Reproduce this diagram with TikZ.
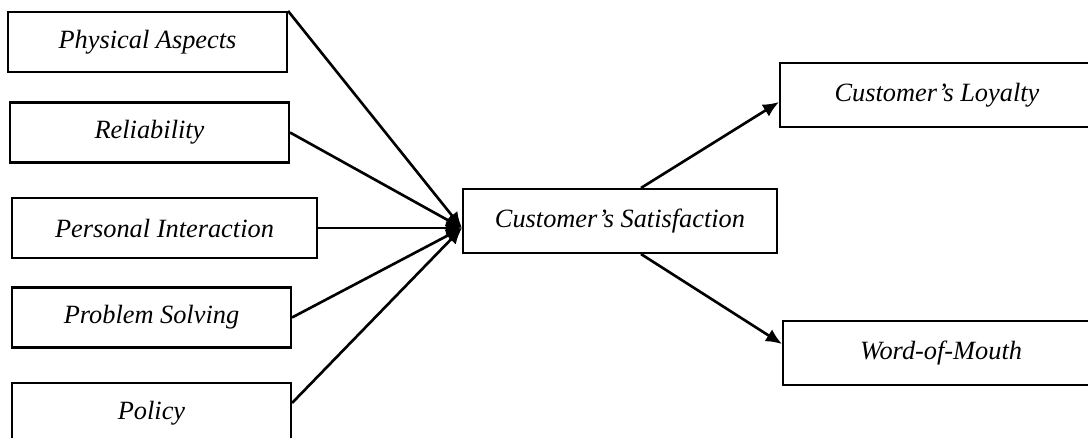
\documentclass[tikz,border=0pt]{standalone}
\usepackage{fontspec}
\setmainfont{Liberation Serif}
\usetikzlibrary{arrows.meta,positioning}

\begin{document}
\begin{tikzpicture}[x=0.02cm,y=-0.02cm,>={Latex[length=3.2mm,width=2.8mm]},
    box/.style={draw,line width=1.2pt,minimum height=1.2cm,inner sep=0pt,
      font=\fontsize{15}{18}\selectfont\itshape},
    link/.style={->,line width=1.5pt}]

    \useasboundingbox (0,0) rectangle (1088,437);
    \clip (0,0) rectangle (1088,437);

    % service quality dimensions
    \node[box,minimum width=5.58cm] (phys) at (147.5,42)  {Physical Aspects};
    \node[box,minimum width=5.58cm] (reli) at (149.5,132.5) {Reliability};
    \node[box,minimum width=6.1cm]  (pers) at (164.5,228) {Personal Interaction};
    \node[box,minimum width=5.58cm] (prob) at (151.5,317.5) {Problem Solving};
    \node[box,minimum width=5.58cm] (poli) at (151.5,413) {Policy};

    % satisfaction and its outcomes
    \node[box,minimum width=6.28cm,minimum height=1.28cm] (sat) at (620,221) {Customer’s Satisfaction};
    \node[box,minimum width=6.28cm,minimum height=1.28cm] (loy) at (937,95)  {Customer’s Loyalty};
    \node[box,minimum width=6.32cm,minimum height=1.28cm] (wom) at (941,353) {Word-of-Mouth};

    \coordinate (hub) at (pers.east -| sat.west);

    \draw[link] (phys.north east) -- (hub);
    \draw[link] (reli.east) -- (hub);
    \draw[link] (pers.east) -- (hub);
    \draw[link] (prob.east) -- (hub);
    \draw[link] ([yshift=2mm]poli.east) -- (hub);

    \draw[link] ([xshift=4.2mm]sat.north) -- ([yshift=-1.4mm]loy.west);
    \draw[link] ([xshift=4.2mm]sat.south) -- ([yshift=1.8mm]wom.west);

\end{tikzpicture}
\end{document}
